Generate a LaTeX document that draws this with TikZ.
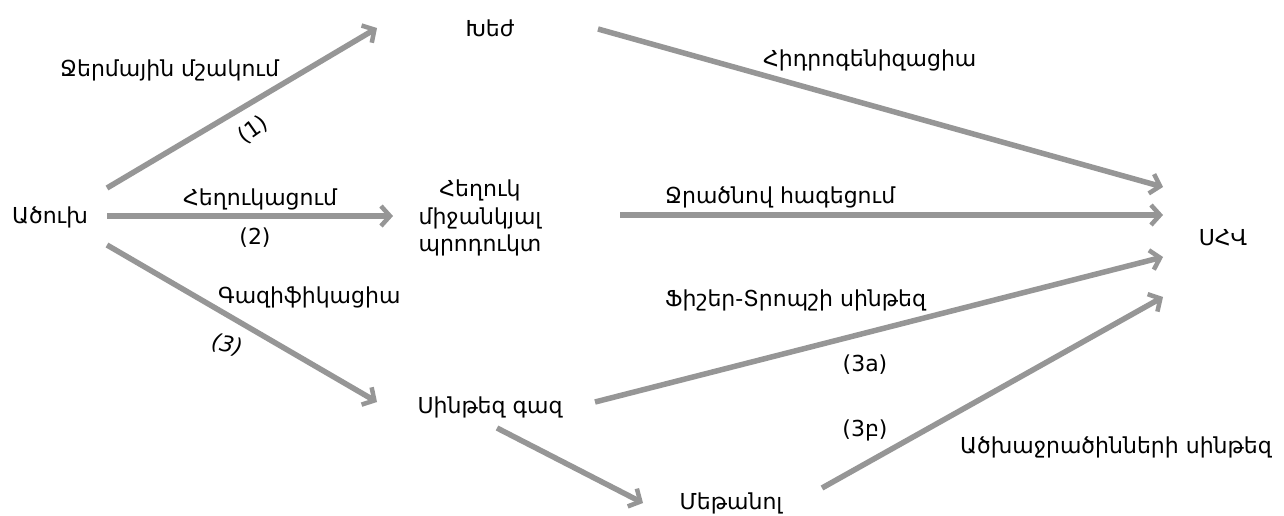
\documentclass[tikz,border=0pt]{standalone}
\usepackage{fontspec}
\setmainfont{DejaVu Sans}
\usetikzlibrary{arrows.meta}
\definecolor{arrgray}{RGB}{150,150,150}
\tikzset{
  txt/.style={font=\fontsize{22}{26}\selectfont, inner sep=0pt, text=black},
  lbl/.style={font=\fontsize{22}{26}\selectfont, inner sep=0pt, text=black, anchor=west},
  conn/.style={draw=arrgray, line width=5.5pt,
    -{Straight Barb[length=9pt, width=20pt, line width=4.5pt]}},
}
\begin{document}
\begin{tikzpicture}[x=1pt, y=-1pt]
\useasboundingbox[fill=white] (0,0) rectangle (1284,515);
% nodes
\node[txt] (coal) at (50,217) {Ածուխ};
\node[txt] (resin) at (490,28) {Խեժ};
\node[txt, align=center, font=\fontsize{22}{27.5}\selectfont] (liq) at (480,218) {Հեղուկ\\միջանկյալ\\պրոդուկտ};
\node[txt] (syn) at (490,407) {Սինթեզ գազ};
\node[txt] (meth) at (731,503) {Մեթանոլ};
\node[txt] (shv) at (1223,238) {ՍՀՎ};
% connector ends
\coordinate (a1s) at (107,188); \coordinate (a1e) at (377,28);
\coordinate (a2s) at (107,216); \coordinate (a2e) at (393,216);
\coordinate (a3s) at (107,245); \coordinate (a3e) at (377,402);
\coordinate (a4s) at (598,29);  \coordinate (a4e) at (1163,187);
\coordinate (a5s) at (620,215); \coordinate (a5e) at (1163,215);
\coordinate (a6s) at (595,402); \coordinate (a6e) at (1163,257);
\coordinate (a7s) at (497,428); \coordinate (a7e) at (643,503);
\coordinate (a8s) at (822,488); \coordinate (a8e) at (1163,297);
% connectors
\draw[conn] (a1s) -- (a1e);
\draw[conn] (a2s) -- (a2e);
\draw[conn] (a3s) -- (a3e);
\draw[conn] (a4s) -- (a4e);
\draw[conn] (a5s) -- (a5e);
\draw[conn] (a6s) -- (a6e);
\draw[conn] (a7s) -- (a7e);
\draw[conn] (a8s) -- (a8e);
% labels
\node[lbl] (l1) at (60,70) {Ջերմային մշակում};
\node[txt, rotate=35] (n1) at (253,130) {(1)};
\node[lbl] (l2) at (183,199) {Հեղուկացում};
\node[txt] (n2) at (255,238) {(2)};
\node[lbl] (l3) at (218,297) {Գազիֆիկացիա};
\node[txt, font=\fontsize{22}{26}\itshape\selectfont, rotate=-12] (n3) at (227,345) {(3)};
\node[lbl] (l4) at (763,60) {Հիդրոգենիզացիա};
\node[lbl] (l5) at (665,197) {Ջրածնով հագեցում};
\node[lbl] (l6) at (665,300) {Ֆիշեր-Տրոպշի սինթեզ};
\node[txt] (n6) at (865,365) {(3a)};
\node[txt] (n7) at (865,430) {(3բ)};
\node[lbl] (l8) at (960,447) {Ածխաջրածինների սինթեզ};
\end{tikzpicture}
\end{document}
